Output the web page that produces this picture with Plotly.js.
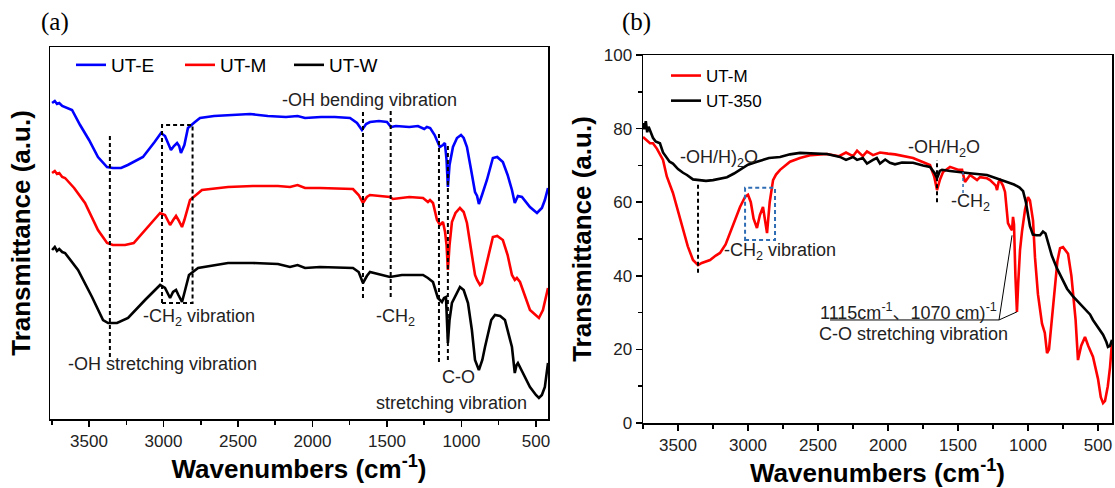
<!DOCTYPE html>
<html><head><meta charset="utf-8">
<script src="https://cdn.plot.ly/plotly-3.0.1.min.js"></script>
<style>html,body{margin:0;padding:0;background:#fff}#chart{width:1115px;height:488px}</style>
</head><body><div id="chart"></div>
<script>
// ---------- Panel (a): FTIR spectra, offset, arbitrary units ----------
const utE_wn = [3748,3730,3715,3700,3680,3661,3614,3560,3500,3440,3379,3340,3285,3240,3138,3060,3017,2990,2950,2930,2909,2895,2883,2860,2836,2789,2755,2661,2500,2419,2300,2178,2100,2050,1943,1850,1748,1701,1668,1640,1614,1554,1500,1473,1440,1350,1292,1250,1232,1210,1180,1164,1145,1124,1111,1100,1091,1080,1057,1030,1003,985,963,935,923,909,895,883,862,829,789,760,722,690,661,642,621,594,540,493,460,440,419];
const utE_t  = [316,318,315,316,313,312,309,294,279,262,252,251,251,254,262,277,286,283,269,273,276,273,266,274,291,297,301,303,304,305,303,302,303,301,302,302,301,296,289,295,297,298,297,292,293,292,293,290,292,291,284,279,272,274,276,259,232,254,272,281,284,281,272,249,239,227,223,215,224,239,261,262,257,244,229,216,223,222,212,206,211,219,231];

const utM_wn = [3748,3730,3715,3700,3680,3661,3600,3527,3440,3379,3340,3258,3200,3124,3023,2990,2956,2935,2916,2900,2876,2860,2822,2742,2567,2400,2232,2151,2100,2050,1950,1728,1690,1661,1635,1614,1480,1460,1350,1258,1225,1211,1191,1164,1144,1124,1110,1100,1091,1080,1064,1040,1010,985,963,935,909,895,876,862,829,789,760,722,690,661,642,628,607,587,540,480,453,419];
const utM_t  = [246,248,245,246,242,241,231,216,189,176,174,174,176,189,206,204,194,199,203,199,192,199,219,229,232,233,233,232,234,231,231,230,224,216,222,224,222,220,222,221,217,219,216,199,194,197,187,174,149,174,197,206,211,207,196,169,144,139,134,136,157,182,183,179,164,144,139,141,137,129,109,101,109,131];

const utW_wn = [3748,3730,3715,3700,3680,3661,3574,3480,3406,3372,3312,3238,3124,3023,2990,2956,2936,2916,2900,2876,2860,2829,2768,2567,2400,2232,2151,2100,2050,1950,1728,1690,1661,1635,1614,1480,1400,1258,1225,1191,1158,1131,1117,1104,1091,1080,1064,1010,985,956,930,909,883,860,842,800,775,740,708,680,661,642,630,621,580,540,500,480,460,440,419];
const utW_t  = [169,172,168,170,167,166,149,122,99,96,96,101,119,134,131,121,127,129,124,117,126,144,151,156,156,155,152,154,151,152,151,147,136,143,147,142,144,144,141,137,121,117,121,122,76,99,116,132,129,116,89,59,49,59,72,99,104,103,99,84,72,46,54,56,44,32,24,21,24,32,56];

// ---------- Panel (b): transmittance (%) ----------
const b_utM_wn = [3750,3730,3700,3679,3650,3607,3580,3536,3500,3464,3430,3393,3357,3330,3300,3271,3230,3200,3160,3129,3090,3057,3020,3000,2980,2960,2936,2915,2893,2880,2864,2845,2821,2800,2771,2700,2629,2550,2436,2350,2300,2250,2221,2180,2150,2107,2057,2000,1950,1821,1750,1700,1670,1650,1630,1607,1557,1500,1471,1450,1414,1364,1343,1293,1271,1230,1221,1210,1200,1179,1164,1150,1143,1125,1114,1107,1100,1090,1079,1070,1057,1043,1021,1000,986,964,950,929,900,880,864,850,835,815,790,771,750,714,690,660,643,620,593,570,536,500,480,464,450,430,414,400];
const b_utM_t  = [77.7,77,76,76,74.5,71.5,67,62.5,57.5,52.4,48,44.3,42.9,43.5,44,44.3,45.5,46.2,48.5,51.6,55,58.7,61.5,62,60,55.5,53,56.5,58.7,56,51.6,60,66,67.5,68.8,71,72,72.8,73.1,72.5,73.5,72.5,74,72.5,73.8,72.8,73.5,73.2,73,72,71,70.1,67,63.3,66,68.2,69.6,68.8,68.8,65.5,67.4,66,66.8,66.5,66,64.5,63.3,65.5,66,64.5,62.8,57,54.3,53,52.4,56,54,40,30.2,38,47,52,58,61.4,60.5,55,45,35,27,24.5,19,20,26,35,44,47.5,47.8,46,40,28,17.1,21,23.4,21,18,12,7,5.4,6,10,15.2,22];

const b_ut350_wn = [3750,3740,3730,3720,3710,3700,3690,3679,3660,3629,3607,3560,3536,3500,3464,3436,3393,3357,3300,3250,3200,3150,3100,3057,3000,2936,2850,2771,2700,2629,2500,2436,2343,2300,2250,2221,2180,2150,2107,2080,2057,2020,1986,1950,1900,1821,1750,1700,1665,1650,1630,1614,1557,1500,1464,1400,1293,1200,1150,1100,1060,1035,1015,1000,986,965,940,914,893,875,857,830,793,750,721,680,629,593,557,536,500,464,440,429,414,400];
const b_ut350_t  = [81.5,79.8,82,79,80.5,79.6,78.5,77.5,76.5,76,73.5,71,70.5,69,68,67.4,66.2,66,65.8,66,66.3,66.8,67.8,68.8,70.2,71,72,72.3,73,73.4,73.2,73.1,72.3,71.5,72.3,71.5,72,70.5,71.5,72,70.5,71.6,70.7,70.3,70.8,70.7,70,69.6,67.8,66.5,68.5,68.8,68.5,68.2,68.2,67.8,67.4,66.2,65.5,64.8,64,63,60,56,53.5,51.2,51,51,52,51.5,49,45.5,42,38.5,36.5,34.5,32.5,31,29.5,28,26,24,22,20.7,21,22.6];

const xTickStep = 500;
const yTicksB = 20;

const FONT = 'Arial, "Liberation Sans", "Noto Sans CJK SC", sans-serif';
const SERIF = '"Liberation Serif", "Times New Roman", serif';

const traces = [
  {x: utE_wn, y: utE_t, name: 'UT-E', type: 'scatter', mode: 'lines', line: {color: '#0000ff', width: 2.6}, xaxis: 'x', yaxis: 'y', legend: 'legend'},
  {x: utM_wn, y: utM_t, name: 'UT-M', type: 'scatter', mode: 'lines', line: {color: '#ff0000', width: 2.6}, xaxis: 'x', yaxis: 'y', legend: 'legend'},
  {x: utW_wn, y: utW_t, name: 'UT-W', type: 'scatter', mode: 'lines', line: {color: '#000000', width: 2.6}, xaxis: 'x', yaxis: 'y', legend: 'legend'},
  {x: b_utM_wn, y: b_utM_t, name: 'UT-M', type: 'scatter', mode: 'lines', line: {color: '#ff0000', width: 2.6}, xaxis: 'x2', yaxis: 'y2', legend: 'legend2'},
  {x: b_ut350_wn, y: b_ut350_t, name: 'UT-350', type: 'scatter', mode: 'lines', line: {color: '#000000', width: 2.6}, xaxis: 'x2', yaxis: 'y2', legend: 'legend2'}
];

const axisCommon = {
  showline: true, mirror: true, linecolor: '#000', linewidth: 1.5,
  showgrid: false, zeroline: false, automargin: false,
  tickfont: {family: FONT, size: 17, color: '#222'}
};
const xCommon = Object.assign({}, axisCommon, {
  ticks: 'outside', ticklen: 6, tickwidth: 1.5, tickcolor: '#000',
  dtick: xTickStep, tick0: 0,
  minor: {dtick: xTickStep / 2, ticklen: 4, tickwidth: 1.5, tickcolor: '#000', ticks: 'outside'},
  title: {text: '<b>Wavenumbers (cm<sup>-1</sup>)</b>', font: {family: FONT, size: 26, color: '#000'}, standoff: 4}
});

const dash = {color: '#000', width: 2, dash: '4px,3px'};
const blueDash = {color: '#2e6db4', width: 2, dash: '4px,3px'};
const thin = {color: '#000', width: 1};

const shapes = [
  // panel (a)
  {type: 'line', xref: 'x', yref: 'y', x0: 3360, x1: 3360, y0: 62, y1: 286, line: dash},
  {type: 'rect', xref: 'x', yref: 'y', x0: 3010, x1: 2805, y0: 116, y1: 294, line: dash},
  {type: 'line', xref: 'x', yref: 'y', x0: 1661, x1: 1661, y0: 121, y1: 309, line: dash},
  {type: 'line', xref: 'x', yref: 'y', x0: 1475, x1: 1475, y0: 122, y1: 309, line: dash},
  {type: 'line', xref: 'x', yref: 'y', x0: 1151, x1: 1151, y0: 57, y1: 286, line: dash},
  {type: 'line', xref: 'x', yref: 'y', x0: 1091, x1: 1091, y0: 59, y1: 276, line: dash},
  // panel (b)
  {type: 'line', xref: 'x2', yref: 'y2', x0: 3357, x1: 3357, y0: 40.8, y1: 65.5, line: dash},
  {type: 'rect', xref: 'x2', yref: 'y2', x0: 3021, x1: 2807, y0: 49.7, y1: 63.9, line: blueDash},
  {type: 'line', xref: 'x2', yref: 'y2', x0: 1650, x1: 1650, y0: 60, y1: 71.5, line: dash},
  {type: 'line', xref: 'x2', yref: 'y2', x0: 1464, x1: 1464, y0: 62.5, y1: 68.5, line: {color: '#2e6db4', width: 1.5, dash: 'dot'}},
  {type: 'line', xref: 'x2', yref: 'y2', x0: 2414, x1: 1207, y0: 28, y1: 28, line: thin},
  {type: 'line', xref: 'x2', yref: 'y2', x0: 1207, x1: 1114, y0: 28, y1: 51, line: thin},
  {type: 'line', xref: 'x2', yref: 'y2', x0: 1207, x1: 1079, y0: 28, y1: 30.2, line: thin}
];

const annFont = {family: FONT, size: 18, color: '#222'};
function ann(xref, yref, x, y, text, xanchor) {
  return {xref: xref, yref: yref, x: x, y: y, text: text, showarrow: false, font: annFont, xanchor: xanchor || 'center', yanchor: 'middle'};
}
const annotations = [
  {xref: 'paper', yref: 'paper', x: 55 / 1115, y: 1 - 22 / 488, xanchor: 'center', yanchor: 'middle', text: '(a)', showarrow: false, font: {family: SERIF, size: 25, color: '#000'}},
  {xref: 'paper', yref: 'paper', x: 636 / 1115, y: 1 - 22 / 488, xanchor: 'center', yanchor: 'middle', text: '(b)', showarrow: false, font: {family: SERIF, size: 25, color: '#000'}},
  ann('x', 'y', 1614, 319, '-OH bending vibration'),
  ann('x', 'y', 2762, 102, '-CH<sub>2</sub> vibration'),
  ann('x', 'y', 3010, 55, '-OH stretching vibration'),
  ann('x', 'y', 1446, 102, '-CH<sub>2</sub>'),
  ann('x', 'y', 1017, 42, 'C-O'),
  ann('x', 'y', 1070, 16, 'stretching vibration'),
  ann('x2', 'y2', 3207, 72, '-OH/H)<sub>2</sub>O'),
  ann('x2', 'y2', 2771, 46.5, '-CH<sub>2</sub> vibration'),
  ann('x2', 'y2', 1600, 74.7, '-OH/H<sub>2</sub>O'),
  ann('x2', 'y2', 1414, 60, '-CH<sub>2</sub>'),
  ann('x2', 'y2', 2500, 30.2, '1115cm<sup>-1</sup>、1070 cm)<sup>-1</sup>', 'left'),
  ann('x2', 'y2', 2507, 24.2, 'C-O stretching vibration', 'left')
];

const layout = {
  width: 1115, height: 488,
  margin: {l: 0, r: 0, t: 0, b: 0},
  paper_bgcolor: '#fff', plot_bgcolor: '#fff',
  font: {family: FONT, color: '#000'},
  xaxis: Object.assign({}, xCommon, {domain: [50 / 1115, 548 / 1115], range: [3762, 419], anchor: 'y'}),
  yaxis: Object.assign({}, axisCommon, {
    domain: [1 - 419 / 488, 1 - 47 / 488], range: [0, 372], anchor: 'x',
    showticklabels: false, ticks: '',
    title: {text: '<b>Transmittance (a.u.)</b>', font: {family: FONT, size: 26, color: '#000'}, standoff: 10}
  }),
  xaxis2: Object.assign({}, xCommon, {domain: [643 / 1115, 1112 / 1115], range: [3750, 400], anchor: 'y2'}),
  yaxis2: Object.assign({}, axisCommon, {
    domain: [1 - 423 / 488, 1 - 55 / 488], range: [0, 100], anchor: 'x2',
    ticks: 'outside', ticklen: 6, tickwidth: 1.5, tickcolor: '#000', dtick: yTicksB, tick0: 0,
    minor: {dtick: yTicksB / 2, ticklen: 4, tickwidth: 1.5, tickcolor: '#000', ticks: 'outside'},
    title: {text: '<b>Transmittance (a.u.)</b>', font: {family: FONT, size: 26, color: '#000'}, standoff: 4}
  }),
  legend: {x: 71 / 1115, y: 1 - 46 / 488, xanchor: 'left', yanchor: 'top', orientation: 'h',
           font: {family: FONT, size: 19, color: '#000'}, entrywidth: 64, entrywidthmode: 'pixels',
           bgcolor: 'rgba(0,0,0,0)', borderwidth: 0},
  legend2: {x: 666 / 1115, y: 1 - 58 / 488, xanchor: 'left', yanchor: 'top', orientation: 'v',
            font: {family: FONT, size: 17, color: '#000'}, bgcolor: 'rgba(0,0,0,0)', borderwidth: 0},
  shapes: shapes,
  annotations: annotations
};

Plotly.newPlot('chart', traces, layout, {staticPlot: true, displayModeBar: false});
</script>
</body></html>
